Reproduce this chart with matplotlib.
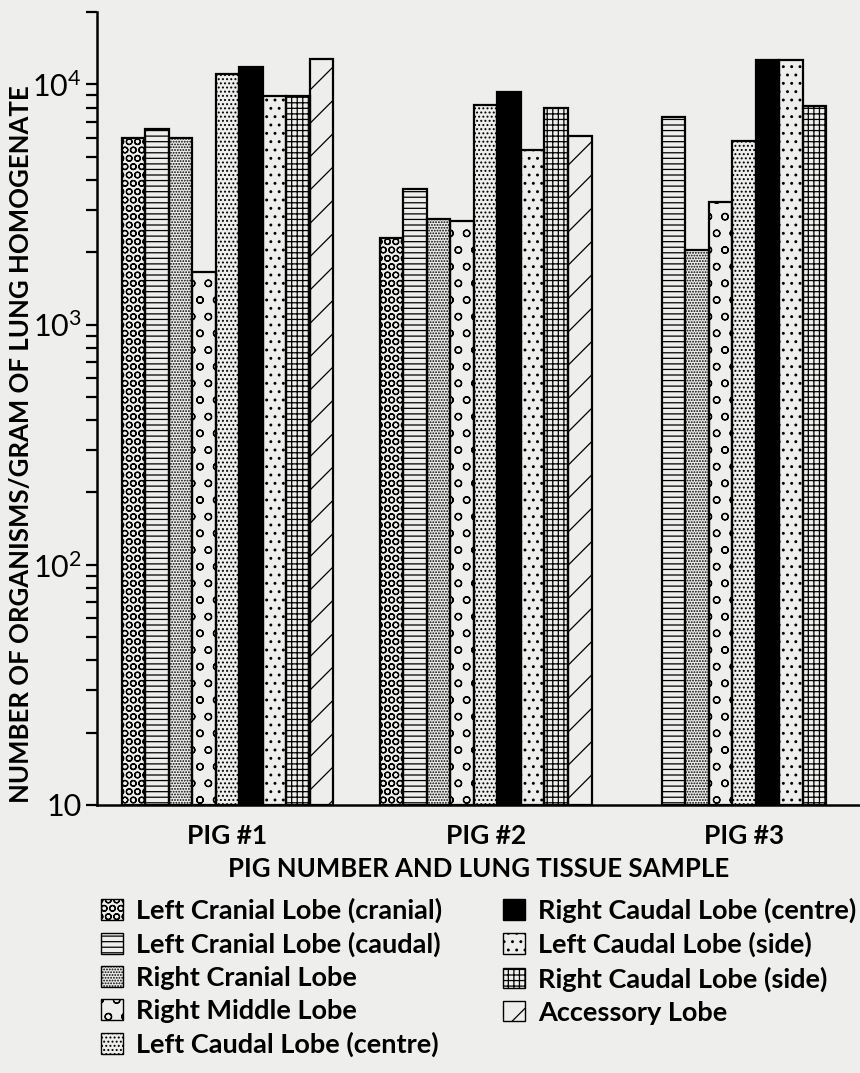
import numpy as np
import matplotlib.pyplot as plt
from matplotlib.patches import Patch

plt.rcParams['font.family'] = ['Lato', 'DejaVu Sans']
plt.rcParams['mathtext.fontset'] = 'custom'
plt.rcParams['mathtext.rm'] = 'Lato'
plt.rcParams['hatch.linewidth'] = 0.9

# lobes (legend order)
lobes = ['Left Cranial Lobe (cranial)', 'Left Cranial Lobe (caudal)',
         'Right Cranial Lobe', 'Right Middle Lobe', 'Left Caudal Lobe (centre)',
         'Right Caudal Lobe (centre)', 'Left Caudal Lobe (side)',
         'Right Caudal Lobe (side)', 'Accessory Lobe']
pigs = ['PIG #1', 'PIG #2', 'PIG #3']

# organisms / g of lung homogenate, one list per pig (nan = not sampled)
pig1 = [6000, 6500, 6000, 1650, 11000, 11800, 8900, 8900, 12700]
pig2 = [2300, 3650, 2750, 2700, 8200, 9250, 5350, 8000, 6100]
pig3 = [np.nan, 7300, 2050, 3250, 5800, 12600, 12600, 8100, np.nan]

yticks = [10, 100, 1000, 10000]
ytick_labels = ['10', r'$\mathregular{10^2}$', r'$\mathregular{10^3}$', r'$\mathregular{10^4}$']

hatches = ['OO', '---', '......', 'o', '....', '', '..', '+++', '/']
faces = ['none', 'none', 'none', 'none', 'none', 'black', 'none', 'none', 'none']

paper = '#eeeeec'
fig = plt.figure(figsize=(8.6, 10.73), dpi=100, facecolor=paper)
ax = fig.add_axes([0.1128, 0.2498, 0.8872, 0.739])
ax.set_facecolor(paper)

data = np.array([pig1, pig2, pig3])
w = 0.091
x = np.arange(len(pigs))
for i, lobe in enumerate(lobes):
    ax.bar(x + (i - 4) * w, data[:, i] - 10, width=w, bottom=10,
           facecolor=faces[i], edgecolor='black', hatch=hatches[i],
           linewidth=1.6, label=lobe)

ax.set_yscale('log')
ax.set_ylim(10, 20000)
ax.set_xlim(-0.505, 2.449)
ax.set_yticks(yticks)
ax.set_yticklabels(ytick_labels, fontsize=22)
ax.tick_params(axis='y', which='major', direction='out', length=8, width=1.6, pad=3)
ax.tick_params(axis='y', which='minor', direction='out', length=8, width=1.6)
ax.yaxis.set_minor_formatter(plt.NullFormatter())
ax.set_xticks(x)
ax.set_xticklabels(pigs, fontsize=19, fontweight='bold')
ax.tick_params(axis='x', length=0, pad=14)
for s in ['top', 'right']:
    ax.spines[s].set_visible(False)
for s in ['left', 'bottom']:
    ax.spines[s].set_linewidth(1.8)

ax.set_xlabel('PIG NUMBER AND LUNG TISSUE SAMPLE', fontsize=18.5,
              fontweight='bold', labelpad=6)
ax.set_ylabel('NUMBER OF ORGANISMS/GRAM OF LUNG HOMOGENATE', fontsize=18.5,
              fontweight='bold')
ax.yaxis.set_label_coords(-0.084, 0.455)

handles = [Patch(facecolor=faces[i], edgecolor='black', hatch=hatches[i],
                 linewidth=1.0, label=lobes[i]) for i in range(len(lobes))]
opts = dict(frameon=False, handlelength=0.8, handleheight=0.8,
            handletextpad=0.5, labelspacing=0.33, borderpad=0, loc='upper left',
            prop={'weight': 'bold', 'size': 19.5})
fig.legend(handles=handles[:5], bbox_to_anchor=(0.102, 0.176), **opts)
fig.legend(handles=handles[5:], bbox_to_anchor=(0.569, 0.176), **opts)

fig.savefig('out.png', dpi=100, facecolor=paper)
